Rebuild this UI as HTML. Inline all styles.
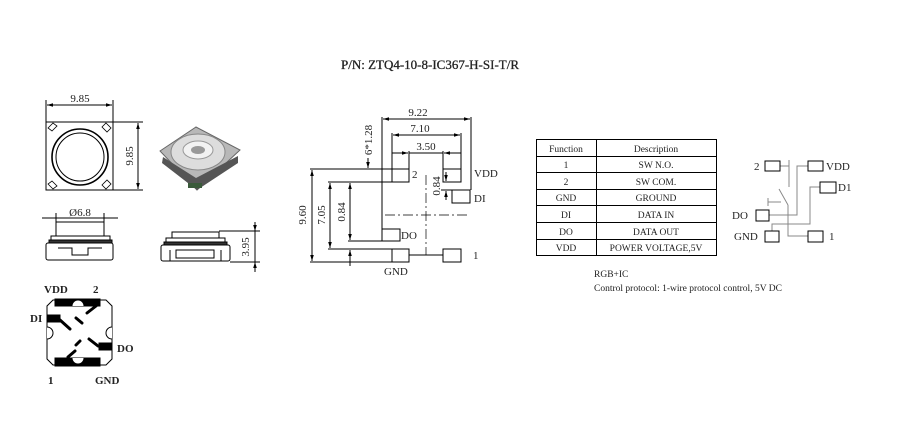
<!DOCTYPE html>
<html><head><meta charset="utf-8"><style>
html,body{margin:0;padding:0;background:#fff;width:900px;height:434px;overflow:hidden}
svg{display:block}
text{font-family:"Liberation Serif",serif;fill:#222}
</style></head><body>
<svg width="900" height="434" viewBox="0 0 900 434" xmlns="http://www.w3.org/2000/svg">
<defs>
<marker id="a" viewBox="0 0 10 10" refX="10" refY="5" markerWidth="6" markerHeight="6" orient="auto-start-reverse"><path d="M0,2 L10,5 L0,8 z" fill="#000"/></marker>
</defs>
<text x="430" y="69" font-size="13" text-anchor="middle" stroke="#222" stroke-width="0.3">P/N: ZTQ4-10-8-IC367-H-SI-T/R</text>

<!-- top view -->
<g stroke="#000" fill="none" stroke-width="1">
<line x1="46" y1="100" x2="46" y2="125"/><line x1="113" y1="100" x2="113" y2="125"/>
<line x1="47" y1="105" x2="112" y2="105" marker-start="url(#a)" marker-end="url(#a)"/>
<rect x="46" y="122" width="67" height="68" fill="#fff"/>
<line x1="113" y1="122" x2="143" y2="122"/><line x1="113" y1="190" x2="143" y2="190"/>
<line x1="138" y1="123" x2="138" y2="189" marker-start="url(#a)" marker-end="url(#a)"/>
<circle cx="80" cy="157" r="28" stroke-width="1.6"/>
<circle cx="80" cy="157" r="24" stroke-width="1"/>
</g>
<g fill="#fff" stroke="#000" stroke-width="0.8">
<path d="M48,128 l5,-5 4,3 -5,5z"/><path d="M106,123 l5,5 -4,4 -5,-5z"/>
<path d="M48,184 l5,5 4,-3 -5,-5z"/><path d="M106,189 l5,-5 -4,-4 -5,5z"/>
</g>
<text x="80" y="102" font-size="11" text-anchor="middle">9.85</text>
<text transform="translate(133,156) rotate(-90)" font-size="11" text-anchor="middle">9.85</text>

<!-- photo -->
<polygon points="160,151 196,127 240,150 197,190" fill="#b8b8b8" stroke="#666"/>
<polygon points="163,157 196,178 238,156 238,163 197,190 162,163" fill="#555"/>
<ellipse cx="198" cy="152" rx="27" ry="18" fill="#ddd" stroke="#888"/>
<ellipse cx="198" cy="150" rx="15" ry="9" fill="#f2f2f2" stroke="#999"/>
<ellipse cx="198" cy="150" rx="7" ry="4" fill="#999"/>
<rect x="188" y="183" width="14" height="5" fill="#3a5a3a"/>

<!-- side view left -->
<g stroke="#000" fill="#fff" stroke-width="1">
<line x1="42" y1="218" x2="118" y2="218" fill="none"/>
<line x1="56" y1="213" x2="56" y2="224"/><line x1="104" y1="213" x2="104" y2="224"/>
<rect x="56" y="222" width="48" height="14"/>
<rect x="51" y="236" width="59" height="4"/>
<rect x="49" y="240" width="63" height="3" fill="#333"/>
<rect x="46" y="243" width="67" height="17" rx="2"/>
<path d="M58,248 H72 V255 H88 V248 H102" fill="none"/>
</g>
<text x="80" y="216" font-size="11" text-anchor="middle">Ø6.8</text>

<!-- side view right -->
<g stroke="#000" fill="#fff" stroke-width="1">
<rect x="172" y="232" width="47" height="6"/>
<rect x="166" y="238" width="59" height="4"/>
<rect x="164" y="242" width="63" height="3" fill="#333"/>
<rect x="161" y="245" width="69" height="16" rx="2"/>
<path d="M170,250 V261 M221,250 V261 M176,250 H214 V258 H176Z" fill="none"/>
<line x1="219" y1="231" x2="260" y2="231"/><line x1="230" y1="262" x2="260" y2="262"/>
<line x1="255" y1="222" x2="255" y2="231" marker-end="url(#a)"/>
<line x1="255" y1="272" x2="255" y2="262" marker-end="url(#a)"/>
<line x1="255" y1="231" x2="255" y2="262"/>
</g>
<text transform="translate(249,247) rotate(-90)" font-size="11" text-anchor="middle">3.95</text>

<!-- bottom view -->
<g stroke="#000" stroke-width="1">
<path d="M53,300 H106 L112,306 V359 L106,365 H53 L47,359 V306Z" fill="#fff"/>
<rect x="55" y="299" width="45" height="7" fill="#000"/>
<rect x="55" y="358" width="45" height="8" fill="#000"/>
<rect x="48" y="315" width="12" height="7" fill="#000"/>
<rect x="99" y="343" width="12" height="7" fill="#000"/>
<path d="M72,306 a6,6 0 0 1 12,0" fill="#fff"/>
<path d="M72,358 a6,6 0 0 0 12,0" fill="#fff"/>
<path d="M47,327 a6,6 0 0 1 0,12" fill="#fff"/>
<path d="M112,327 a6,6 0 0 0 0,12" fill="#fff"/>
<g stroke-width="3" stroke-linecap="round" fill="none">
<line x1="60" y1="320" x2="70" y2="329"/><line x1="87" y1="313" x2="96" y2="306"/>
<line x1="68" y1="357" x2="75" y2="351"/><line x1="89" y1="339" x2="98" y2="346"/>
<line x1="76" y1="318" x2="82" y2="323"/><line x1="80" y1="341" x2="76" y2="345"/>
</g>
</g>
<g font-size="11" font-weight="bold">
<text x="44" y="293">VDD</text><text x="93" y="293">2</text>
<text x="30" y="322">DI</text><text x="117" y="352">DO</text>
<text x="48" y="384">1</text><text x="95" y="384">GND</text>
</g>

<!-- footprint -->
<g stroke="#000" fill="none" stroke-width="1">
<line x1="382" y1="117" x2="382" y2="229"/><line x1="471" y1="117" x2="471" y2="190"/>
<line x1="383" y1="119" x2="470" y2="119" marker-start="url(#a)" marker-end="url(#a)"/>
<line x1="392" y1="133" x2="392" y2="169"/><line x1="461" y1="133" x2="461" y2="169"/>
<line x1="393" y1="135" x2="460" y2="135" marker-start="url(#a)" marker-end="url(#a)"/>
<line x1="409" y1="151" x2="409" y2="169"/><line x1="443" y1="151" x2="443" y2="169"/>
<line x1="392" y1="153" x2="408" y2="153" marker-end="url(#a)"/>
<line x1="461" y1="153" x2="444" y2="153" marker-end="url(#a)"/>
<line x1="409" y1="153" x2="443" y2="153"/>
<rect x="392" y="169" width="17" height="13"/>
<rect x="443" y="169" width="18" height="13"/>
<rect x="452" y="190" width="18" height="13"/>
<rect x="382" y="229" width="18" height="12"/>
<rect x="392" y="249" width="17" height="13"/>
<rect x="443" y="249" width="18" height="13"/>
<line x1="310" y1="169" x2="392" y2="169"/>
<line x1="328" y1="182" x2="392" y2="182"/>
<line x1="348" y1="241" x2="382" y2="241"/>
<line x1="328" y1="249" x2="392" y2="249"/>
<line x1="310" y1="262" x2="392" y2="262"/>
<line x1="441" y1="190" x2="452" y2="190"/>
<line x1="409" y1="255" x2="443" y2="255"/>
<line x1="312" y1="170" x2="312" y2="261" marker-start="url(#a)" marker-end="url(#a)"/>
<line x1="330" y1="183" x2="330" y2="248" marker-start="url(#a)" marker-end="url(#a)"/>
<line x1="350" y1="183" x2="350" y2="240" marker-start="url(#a)" marker-end="url(#a)"/>
<line x1="350" y1="266" x2="350" y2="250" marker-end="url(#a)"/>
<line x1="368" y1="158" x2="368" y2="168" marker-end="url(#a)"/>
<line x1="446" y1="172" x2="446" y2="181" marker-end="url(#a)"/>
<line x1="446" y1="200" x2="446" y2="191" marker-end="url(#a)"/>
<line x1="426" y1="175" x2="426" y2="255" stroke-dasharray="10,3,2,3" stroke-width="0.7"/>
<line x1="385" y1="215" x2="467" y2="215" stroke-dasharray="10,3,2,3" stroke-width="0.7"/>
</g>
<g font-size="11">
<text x="418" y="116" text-anchor="middle">9.22</text>
<text x="420" y="132" text-anchor="middle">7.10</text>
<text x="426" y="150" text-anchor="middle">3.50</text>
<text transform="translate(372,140) rotate(-90)" text-anchor="middle">6*1.28</text>
<text transform="translate(306,215) rotate(-90)" text-anchor="middle">9.60</text>
<text transform="translate(325,215) rotate(-90)" text-anchor="middle">7.05</text>
<text transform="translate(345,212) rotate(-90)" text-anchor="middle">0.84</text>
<text transform="translate(440,186) rotate(-90)" text-anchor="middle">0.84</text>
<text x="412" y="178">2</text><text x="474" y="177">VDD</text>
<text x="474" y="202">DI</text><text x="401" y="239">DO</text>
<text x="384" y="275">GND</text><text x="473" y="259">1</text>
</g>

<!-- table -->
<g stroke="#000" stroke-width="1" fill="none">
<rect x="536.5" y="139.5" width="180" height="116"/>
<line x1="596.5" y1="139" x2="596.5" y2="256"/>
<line x1="536" y1="156.5" x2="717" y2="156.5"/>
<line x1="536" y1="172.5" x2="717" y2="172.5"/>
<line x1="536" y1="189.5" x2="717" y2="189.5"/>
<line x1="536" y1="205.5" x2="717" y2="205.5"/>
<line x1="536" y1="222.5" x2="717" y2="222.5"/>
<line x1="536" y1="239.5" x2="717" y2="239.5"/>
</g>
<g font-size="9.5" text-anchor="middle">
<text x="566" y="152">Function</text><text x="656" y="152">Description</text>
<text x="566" y="168">1</text><text x="656" y="168">SW  N.O.</text>
<text x="566" y="185">2</text><text x="656" y="185">SW  COM.</text>
<text x="566" y="201">GND</text><text x="656" y="201">GROUND</text>
<text x="566" y="218">DI</text><text x="656" y="218">DATA IN</text>
<text x="566" y="235">DO</text><text x="656" y="235">DATA OUT</text>
<text x="566" y="251">VDD</text><text x="656" y="251">POWER VOLTAGE,5V</text>
</g>
<text x="594" y="277" font-size="9.5">RGB+IC</text>
<text x="594" y="291" font-size="9.5">Control protocol: 1-wire protocol control, 5V DC</text>

<!-- schematic -->
<g stroke="#888" fill="none" stroke-width="1">
<polyline points="780,166 789,166"/><line x1="789" y1="160" x2="789" y2="187"/>
<polyline points="808,166 797,166 797,215 769,215"/>
<polyline points="820,187 810,187 810,224 772,224 772,231"/>
<line x1="779" y1="189" x2="788" y2="205"/>
<polyline points="788,205 788,236 808,236"/>
<line x1="768" y1="202" x2="781" y2="202"/><line x1="768" y1="198" x2="768" y2="206"/>
</g>
<g stroke="#000" fill="#fff" stroke-width="1">
<rect x="765" y="161" width="15" height="10"/>
<rect x="808" y="161" width="15" height="10"/>
<rect x="820" y="182" width="16" height="11"/>
<rect x="756" y="210" width="13" height="11"/>
<rect x="765" y="231" width="14" height="11"/>
<rect x="808" y="231" width="15" height="11"/>
</g>
<g font-size="11">
<text x="754" y="170">2</text><text x="826" y="170">VDD</text>
<text x="838" y="191">D1</text><text x="732" y="219">DO</text>
<text x="734" y="240">GND</text><text x="829" y="240">1</text>
</g>
</svg>
</body></html>
